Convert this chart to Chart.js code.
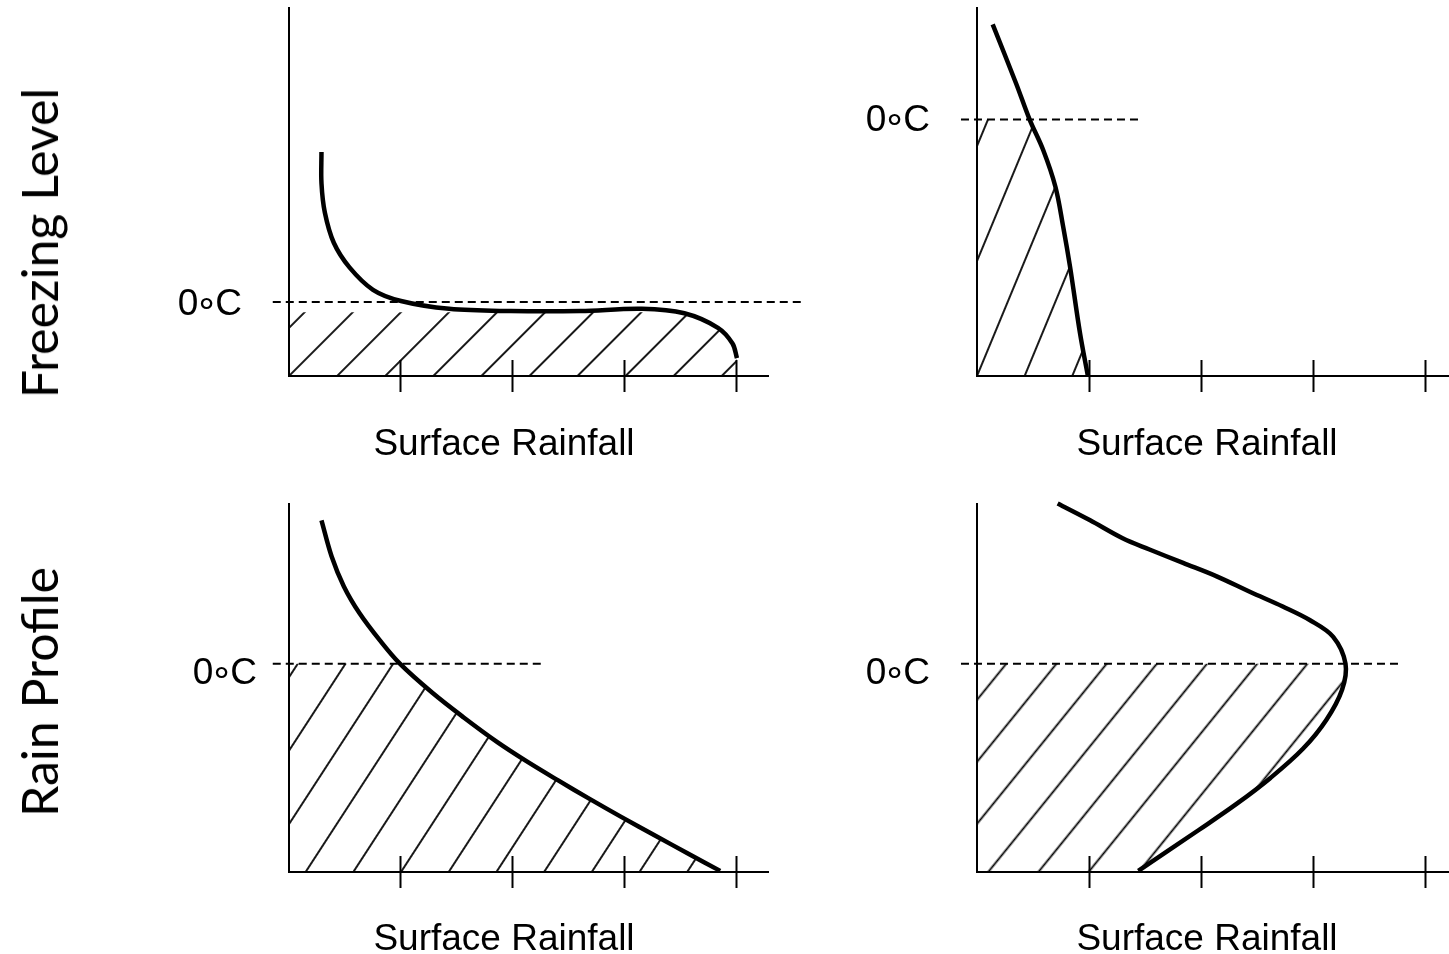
<!DOCTYPE html>
<html>
<head>
<meta charset="utf-8">
<title>Freezing level and rain profile</title>
<script src="https://cdn.jsdelivr.net/npm/chart.js@4.4.1/dist/chart.umd.min.js"></script>
<style>
  html, body { margin: 0; padding: 0; background: #fff; }
  body { width: 1449px; height: 954px; position: relative; overflow: hidden; }
  canvas { position: absolute; }
  .rowlabel {
    position: absolute; white-space: nowrap; color: #000;
    font-family: Lato, "Open Sans", sans-serif; font-size: 50px; line-height: 50px;
    transform: translate(-50%, -50%) rotate(-90deg);
  }
  .xlabel {
    position: absolute; white-space: nowrap; color: #000;
    font-family: "Liberation Sans", Arial, sans-serif; font-size: 37px; line-height: 37px;
    transform: translateX(-50%);
  }
</style>
</head>
<body>
<canvas id="panelA" width="830" height="477" style="left:0;top:0"></canvas>
<canvas id="panelB" width="619" height="477" style="left:830px;top:0"></canvas>
<canvas id="panelC" width="830" height="477" style="left:0;top:477px"></canvas>
<canvas id="panelD" width="619" height="477" style="left:830px;top:477px"></canvas>

<div class="rowlabel" style="left:39px;top:243px">Freezing Level</div>
<div class="rowlabel" style="left:39px;top:692px">Rain Profile</div>
<div class="xlabel" style="left:504px;top:424px">Surface Rainfall</div>
<div class="xlabel" style="left:1207px;top:424px">Surface Rainfall</div>
<div class="xlabel" style="left:504px;top:919px">Surface Rainfall</div>
<div class="xlabel" style="left:1207px;top:919px">Surface Rainfall</div>

<script>
// Rainfall axis tick positions and the freezing-level tick text
const rainTicks = [1, 2, 3, 4];
const freezeText = '0\u2218C';

// Top-left: low freezing level, rain spreads out just under it
const aRain   = [0.29, 0.29, 0.32, 0.40, 0.54, 0.75, 1.00, 1.43, 1.98, 2.60, 3.15, 3.53, 3.83, 3.96, 4.00];
const aHeight = [2.00, 1.72, 1.46, 1.19, 0.97, 0.77, 0.67, 0.60, 0.58, 0.58, 0.60, 0.56, 0.43, 0.29, 0.16];
const aFreeze = 0.66;
const aHatchTop = 0.57;
const aFreezeSpan = [-0.145, 4.57];

// Top-right: high freezing level, light rain
const bRain   = [0.14, 0.35, 0.47, 0.59, 0.70, 0.77, 0.83, 0.92, 0.99];
const bHeight = [3.14, 2.61, 2.29, 2.02, 1.69, 1.33, 0.98, 0.38, 0.00];
const bFreeze = 2.29;
const bHatchTop = 2.29;
const bFreezeSpan = [-0.143, 1.44];

// Bottom-left: rain increasing steadily toward the surface
const cRain   = [0.29, 0.38, 0.49, 0.63, 0.81, 0.99, 1.28, 1.56, 1.86, 2.12, 2.40, 2.68, 2.97, 3.28, 3.57, 3.85];
const cHeight = [3.14, 2.82, 2.55, 2.31, 2.07, 1.86, 1.60, 1.38, 1.16, 0.99, 0.82, 0.655, 0.49, 0.32, 0.16, 0.01];
const cFreeze = 1.86;
const cHatchTop = 1.86;
const cFreezeSpan = [-0.145, 2.29];

// Bottom-right: rain peaking at the freezing level, then evaporating
const dRain   = [0.72, 1.01, 1.30, 1.54, 1.84, 2.14, 2.44, 2.73, 2.97, 3.18, 3.29, 3.26, 3.12, 2.91, 2.62, 2.32, 1.98, 1.44];
const dHeight = [3.29, 3.14, 2.98, 2.88, 2.76, 2.64, 2.50, 2.37, 2.25, 2.10, 1.86, 1.63, 1.36, 1.10, 0.84, 0.61, 0.375, 0.01];
const dFreeze = 1.86;
const dHatchTop = 1.86;
const dFreezeSpan = [-0.143, 3.80];

const LABEL_FONT = { family: "'Liberation Sans', Arial, sans-serif", size: 37 };

function toPoints(xs, ys) {
  return xs.map((x, i) => ({ x, y: ys[i] }));
}

// Region under the profile and below the hatch ceiling, closed down to the axes
function hatchOutline(pts, top) {
  const out = [{ x: 0, y: 0 }, { x: 0, y: top }];
  let inside = false;
  for (let i = 1; i < pts.length; i++) {
    const a = pts[i - 1], b = pts[i];
    if (!inside && a.y >= top && b.y < top) {
      const t = (a.y - top) / (a.y - b.y);
      out.push({ x: a.x + t * (b.x - a.x), y: top });
      inside = true;
    }
    if (inside) out.push(b);
  }
  out.push({ x: out[out.length - 1].x, y: 0 });
  return out;
}

// Repeating tile with one vertical stroke; rotated into place per panel
function makeHatch(ctx, spacing) {
  const tile = document.createElement('canvas');
  tile.width = spacing;
  tile.height = 8;
  const g = tile.getContext('2d');
  g.fillStyle = '#000';
  g.fillRect(spacing / 2 - 0.9, 0, 1.8, 8);
  return ctx.createPattern(tile, 'repeat');
}

function hatchPlacement(pattern, angle, spacing, anchor) {
  return {
    id: 'hatchPlacement',
    beforeDraw(chart) {
      const ax = chart.scales.x.getPixelForValue(anchor[0]);
      const ay = chart.scales.y.getPixelForValue(anchor[1]);
      const deg = 90 - angle;
      const r = deg * Math.PI / 180;
      const h = spacing / 2;
      pattern.setTransform(new DOMMatrix().translate(ax - h * Math.cos(r), ay - h * Math.sin(r)).rotate(deg));
      // tighter setting for the degree ring in the tick text
      chart.ctx.letterSpacing = '-3px';
    }
  };
}

function onlyTicks(values) {
  return (scale) => { scale.ticks = values.map(v => ({ value: v })); };
}

function buildPanel(id, p) {
  const ctx = document.getElementById(id).getContext('2d');
  const pattern = makeHatch(ctx, p.hatchSpacing);
  const profile = toPoints(p.rain, p.height);
  const yMax = 3.286;

  return new Chart(ctx, {
    type: 'line',
    data: {
      datasets: [
        {
          label: 'rain below freezing level',
          data: hatchOutline(profile, p.hatchTop),
          fill: 'shape',
          backgroundColor: pattern,
          borderColor: 'rgba(0,0,0,0)',
          borderWidth: 0,
          pointRadius: 0,
          tension: 0,
          order: 3
        },
        {
          label: 'freezing level',
          data: p.freezeSpan.map(x => ({ x, y: p.freeze })),
          borderColor: '#000',
          borderWidth: 2,
          borderDash: [8, 5],
          pointRadius: 0,
          fill: false,
          clip: false,
          order: 2
        },
        {
          label: 'rain profile',
          data: profile,
          borderColor: '#000',
          borderWidth: 4.5,
          pointRadius: 0,
          tension: 0.35,
          fill: false,
          clip: false,
          order: 1
        }
      ]
    },
    options: {
      responsive: false,
      animation: false,
      devicePixelRatio: 1,
      events: [],
      layout: { padding: p.padding },
      plugins: { legend: { display: false }, tooltip: { enabled: false } },
      scales: {
        x: {
          type: 'linear', position: 'bottom', min: 0, max: p.xMax,
          border: { display: true, color: '#000', width: 2 },
          grid: { display: true, drawOnChartArea: false, drawTicks: true, tickLength: 16, tickWidth: 2, tickColor: '#000', color: '#000' },
          ticks: { display: false },
          afterBuildTicks: onlyTicks(rainTicks),
          afterFit: (s) => { s.height = 20; s.paddingLeft = 0; s.paddingRight = 0; }
        },
        xUp: {
          type: 'linear', axis: 'x', position: { y: 0 }, min: 0, max: p.xMax,
          border: { display: false },
          grid: { display: true, drawOnChartArea: false, drawTicks: true, tickLength: -16, tickWidth: 2, tickColor: '#000', color: '#000' },
          ticks: { display: false },
          afterBuildTicks: onlyTicks(rainTicks),
          afterFit: (s) => { s.paddingLeft = 0; s.paddingRight = 0; }
        },
        y: {
          type: 'linear', position: 'left', min: 0, max: yMax,
          border: { display: true, color: '#000', width: 2 },
          grid: { display: false, drawTicks: false },
          ticks: {
            display: true, color: '#000', font: LABEL_FONT,
            padding: p.labelGap, labelOffset: p.labelShift,
            callback: () => freezeText
          },
          afterBuildTicks: onlyTicks([p.freeze]),
          afterFit: (s) => { s.width = 130; s.paddingTop = 0; s.paddingBottom = 0; }
        }
      }
    },
    plugins: [hatchPlacement(pattern, p.hatchAngle, p.hatchSpacing, p.hatchAnchor)]
  });
}

buildPanel('panelA', {
  rain: aRain, height: aHeight, freeze: aFreeze, hatchTop: aHatchTop, freezeSpan: aFreezeSpan,
  xMax: 4.277, padding: { left: 159, top: 8, right: 62, bottom: 81 },
  labelGap: 50, labelShift: 3,
  hatchAngle: 45, hatchSpacing: 34, hatchAnchor: [0, 0]
});
buildPanel('panelB', {
  rain: bRain, height: bHeight, freeze: bFreeze, hatchTop: bHatchTop, freezeSpan: bFreezeSpan,
  xMax: 4.214, padding: { left: 17, top: 8, right: 0, bottom: 81 },
  labelGap: 50, labelShift: 1,
  hatchAngle: 67.5, hatchSpacing: 44, hatchAnchor: [0, 0]
});
buildPanel('panelC', {
  rain: cRain, height: cHeight, freeze: cFreeze, hatchTop: cHatchTop, freezeSpan: cFreezeSpan,
  xMax: 4.277, padding: { left: 159, top: 27, right: 62, bottom: 62 },
  labelGap: 35, labelShift: 10,
  hatchAngle: 57, hatchSpacing: 40, hatchAnchor: [1, 0]
});
buildPanel('panelD', {
  rain: dRain, height: dHeight, freeze: dFreeze, hatchTop: dHatchTop, freezeSpan: dFreezeSpan,
  xMax: 4.214, padding: { left: 17, top: 27, right: 0, bottom: 62 },
  labelGap: 50, labelShift: 10,
  hatchAngle: 51, hatchSpacing: 39, hatchAnchor: [0, 0.43]
});
</script>
</body>
</html>
